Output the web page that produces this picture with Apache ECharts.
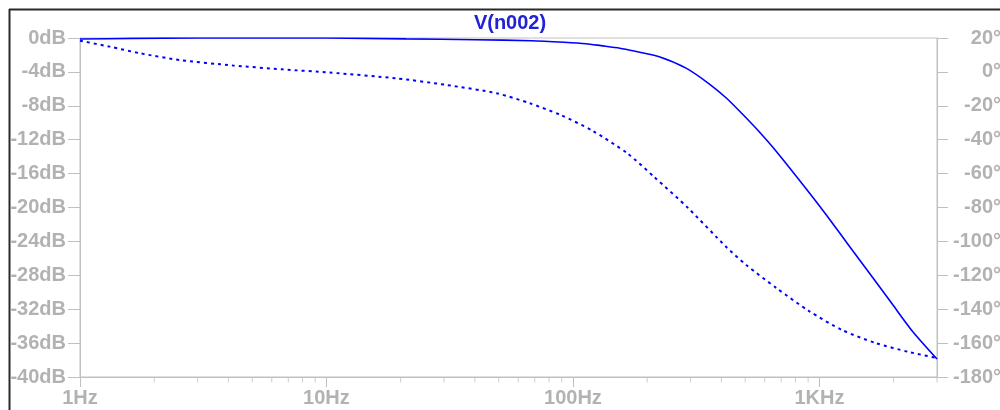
<!DOCTYPE html>
<html>
<head>
<meta charset="utf-8">
<script src="https://cdn.jsdelivr.net/npm/echarts@6/dist/echarts.min.js"></script>
<style>
  html, body { margin: 0; padding: 0; background: #fff; }
  #chart { width: 1000px; height: 410px; }
</style>
</head>
<body>
<div id="chart"></div>
<script>
const TITLE = 'V(n002)'

// magnitude trace (solid line, left axis, dB)
const magFreq = [1, 1.6, 3, 10, 21, 40, 68, 92, 113, 130, 155, 181, 224, 289, 358, 419, 487, 571, 669, 885, 1067, 1285, 1639, 1975, 2380, 3000]
const magDb = [-0.12, -0.05, 0, 0, -0.1, -0.2, -0.32, -0.5, -0.67, -0.9, -1.2, -1.6, -2.2, -3.58, -5.43, -7.08, -8.97, -11.09, -13.39, -17.82, -20.88, -24.07, -28.2, -31.39, -34.57, -37.88]

// phase trace (dotted line, right axis, degrees)
const phaseFreq = [1, 1.32, 1.75, 2.54, 4.17, 6.64, 10.3, 19.2, 30.7, 49, 66.8, 89, 120, 166, 213, 294, 419, 505, 669, 908, 1236, 1687, 2300, 3000]
const phaseDeg = [18.4, 14.9, 11.0, 7.0, 3.8, 1.5, -0.4, -3.8, -7.7, -12.6, -18.5, -25.4, -34.7, -48.0, -61.8, -80.5, -103.3, -113.9, -127.5, -141.1, -152.3, -159.9, -165.2, -168.8]

// x axis
const freqMin = 1
const freqMax = 3000
const freqTicks = [1, 10, 100, 1000]
const freqTickLabels = ['1Hz', '10Hz', '100Hz', '1KHz']
const freqMinorTicks = [2, 3, 4, 5, 6, 7, 8, 9, 20, 30, 40, 50, 60, 70, 80, 90, 200, 300, 400, 500, 600, 700, 800, 900, 2000, 3000]

// y axes
const dbMin = -40, dbMax = 0, dbStep = 4
const degMin = -180, degMax = 20, degStep = 20

const GRAY = '#c0c0c0'
const LABEL = '#b2b2b2'
const BLUE = '#0000ff'
const FONT = 'Liberation Sans'

const chart = echarts.init(document.getElementById('chart'), null, { renderer: 'canvas' })

const labelStyle = { color: LABEL, fontSize: 20, fontWeight: 'bold', fontFamily: FONT, lineHeight: 20 }

chart.setOption({
  animation: false,
  backgroundColor: '#fff',
  title: {
    text: TITLE,
    left: 505,
    top: 8,
    textAlign: 'center',
    textStyle: { color: '#2121d6', fontSize: 20, fontWeight: 'bold', fontFamily: FONT },
  },
  grid: {
    left: 80, right: 63, top: 38, bottom: 33,
    containLabel: false,
    outerBoundsMode: 'none',
    show: true, borderColor: GRAY, borderWidth: 1,
  },
  xAxis: {
    type: 'log',
    logBase: 10,
    min: freqMin,
    max: freqMax,
    position: 'bottom',
    axisLine: { show: true, onZero: false, lineStyle: { color: GRAY, width: 1 } },
    axisTick: { show: true, inside: false, length: 10, customValues: freqTicks, lineStyle: { color: GRAY } },
    axisLabel: {
      ...labelStyle,
      margin: 11,
      customValues: freqTicks,
      formatter: (v) => {
        const i = freqTicks.findIndex(t => Math.abs(t - v) < t * 1e-6)
        return i >= 0 ? freqTickLabels[i] : ''
      },
    },
    splitLine: { show: false },
  },
  yAxis: [
    {
      type: 'value',
      position: 'left',
      min: dbMin,
      max: dbMax,
      interval: dbStep,
      axisLine: { show: true, onZero: false, lineStyle: { color: GRAY, width: 1 } },
      axisTick: { show: true, inside: false, length: 12, lineStyle: { color: GRAY } },
      axisLabel: { ...labelStyle, margin: 14, formatter: (v) => v + 'dB' },
      splitLine: { show: false },
    },
    {
      type: 'value',
      position: 'right',
      min: degMin,
      max: degMax,
      interval: degStep,
      axisLine: { show: true, onZero: false, lineStyle: { color: GRAY, width: 1 } },
      axisTick: { show: true, inside: false, length: 11, lineStyle: { color: GRAY } },
      axisLabel: { ...labelStyle, margin: 64, align: 'right', formatter: (v) => v + '°' },
      splitLine: { show: false },
    },
  ],
  series: [
    {
      // short minor ticks under the frequency axis
      name: 'minorTicks',
      type: 'scatter',
      yAxisIndex: 0,
      data: freqMinorTicks.map(f => [f, dbMin]),
      symbol: 'rect',
      symbolSize: [1, 5],
      symbolOffset: [0, 3],
      itemStyle: { color: GRAY },
      clip: false,
      silent: true,
      z: 1,
    },
    {
      name: 'magnitude',
      type: 'line',
      yAxisIndex: 0,
      data: magFreq.map((f, i) => [f, magDb[i]]),
      symbol: 'none',
      smooth: 0.25,
      lineStyle: { color: BLUE, width: 1.6 },
      z: 3,
    },
    {
      name: 'phase',
      type: 'line',
      yAxisIndex: 1,
      data: phaseFreq.map((f, i) => [f, phaseDeg[i]]),
      symbol: 'none',
      smooth: 0.25,
      lineStyle: { color: BLUE, width: 2, type: [3, 4] },
      z: 3,
    },
  ],
  graphic: [
    { type: 'line', silent: true, shape: { x1: 9, y1: 9.5, x2: 1000, y2: 9.5 }, style: { stroke: '#2a2a2a', lineWidth: 2 } },
    { type: 'line', silent: true, shape: { x1: 9.5, y1: 9, x2: 9.5, y2: 410 }, style: { stroke: '#2a2a2a', lineWidth: 2 } },
  ],
})
</script>
</body>
</html>
